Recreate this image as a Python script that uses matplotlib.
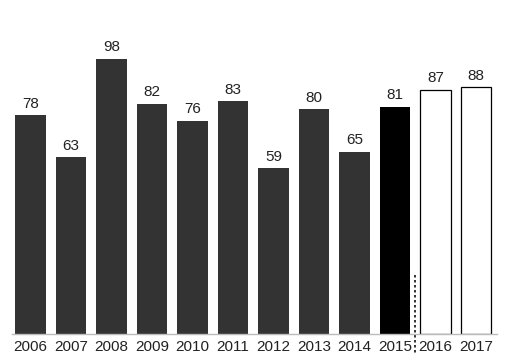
import matplotlib
matplotlib.use("Agg")
import matplotlib.pyplot as plt

years = ["2006", "2007", "2008", "2009", "2010", "2011", "2012",
         "2013", "2014", "2015", "2016", "2017"]
values = [78, 63, 98, 82, 76, 83, 59, 80, 65, 81, 87, 88]
face_colors = ["#333333"] * 9 + ["#000000", "#ffffff", "#ffffff"]

plt.rcParams["font.family"] = ["Liberation Sans", "DejaVu Sans"]

fig = plt.figure(figsize=(5.05, 3.63), dpi=100)
ax = fig.add_axes([12 / 505, 29 / 363, 485 / 505, 334 / 363])

x = list(range(len(years)))
bars = ax.bar(x, values, width=0.76, color=face_colors, edgecolor="#000000", linewidth=0.9)
for b in bars[:10]:
    b.set_linewidth(0)

for xi, v in zip(x, values):
    ax.text(xi, v + 1.6, str(v), ha="center", va="bottom", fontsize=11, color="#222222")

# forecast divider
ax.plot([9.5, 9.5], [21, -7.5], linestyle=(0, (1.5, 1.5)), color="#111111", linewidth=1.2, clip_on=False)

ax.set_xlim(-0.46, 11.52)
ax.set_ylim(0, 119)
ax.set_xticks(x)
ax.set_xticklabels(years, fontsize=11, color="#222222")
ax.tick_params(axis="x", length=0, pad=4)
ax.set_yticks([])
for s in ["top", "right", "left"]:
    ax.spines[s].set_visible(False)
ax.spines["bottom"].set_color("#bbbbbb")
ax.spines["bottom"].set_linewidth(1)

fig.savefig("out.png", dpi=100)
